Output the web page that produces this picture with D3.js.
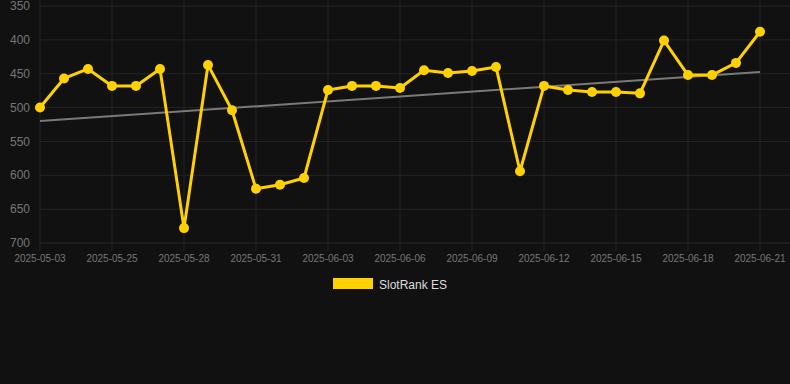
<!DOCTYPE html>
<html><head><meta charset="utf-8">
<script src="https://cdn.jsdelivr.net/npm/d3@7"></script>
<style>html,body{margin:0;padding:0;background:#111111;}svg{display:block;}</style>
</head><body>
<svg id="chart" width="790" height="384"></svg>
<script>
const dates = ["2025-05-03","2025-05-23","2025-05-24","2025-05-25","2025-05-26","2025-05-27","2025-05-28","2025-05-29","2025-05-30","2025-05-31","2025-06-01","2025-06-02","2025-06-03","2025-06-04","2025-06-05","2025-06-06","2025-06-07","2025-06-08","2025-06-09","2025-06-10","2025-06-11","2025-06-12","2025-06-13","2025-06-14","2025-06-15","2025-06-16","2025-06-17","2025-06-18","2025-06-19","2025-06-20","2025-06-21"];
const rankES = [500,457,443,468,468,443,678,437,504,620,614,604,474,468,468,471,445,449,446,440,594,468,474,477,477,479,401,452,452,434,388];
const yTicks = [350,400,450,500,550,600,650,700];
const seriesName = "SlotRank ES";

const svg = d3.select("#chart");
const W = 790, plotL = 40, plotR = 760, plotT = 6, plotB = 243;
const x = d3.scalePoint().domain(dates).range([plotL, plotR]);
const y = d3.scaleLinear().domain([350, 700]).range([plotT, plotB]);

// horizontal grid
svg.append("g").selectAll("line").data(yTicks).join("line")
  .attr("x1", plotL).attr("x2", W).attr("y1", d => y(d)).attr("y2", d => y(d))
  .attr("stroke", d => d === 700 ? "#2e2e2e" : "#242424").attr("stroke-width", 1);
// vertical grid at labelled ticks
const labelled = dates.filter((d, i) => i % 3 === 0);
svg.append("g").selectAll("line").data(labelled).join("line")
  .attr("x1", d => x(d)).attr("x2", d => x(d)).attr("y1", 0).attr("y2", plotB + 8)
  .attr("stroke", "#242424").attr("stroke-width", 1);

// y axis labels
svg.append("g").selectAll("text").data(yTicks).join("text")
  .attr("x", 30).attr("y", d => y(d)).attr("dy", "0.35em")
  .attr("text-anchor", "end").attr("fill", "#777").style("font", "12px Arial, 'Liberation Sans', sans-serif")
  .text(d => d);
// x axis labels
svg.append("g").selectAll("text").data(labelled).join("text")
  .attr("x", d => x(d)).attr("y", 262)
  .attr("text-anchor", "middle").attr("fill", "#777").style("font", "10px Arial, 'Liberation Sans', sans-serif")
  .text(d => d);

// trend line (least squares)
const n = rankES.length;
const xs = d3.range(n);
const mx = d3.mean(xs), my = d3.mean(rankES);
const slope = d3.sum(xs, i => (i - mx) * (rankES[i] - my)) / d3.sum(xs, i => (i - mx) ** 2);
const icpt = my - slope * mx;
svg.append("line")
  .attr("x1", x(dates[0])).attr("y1", y(icpt))
  .attr("x2", x(dates[n - 1])).attr("y2", y(icpt + slope * (n - 1)))
  .attr("stroke", "#7a7a7a").attr("stroke-width", 2);

// series line
const line = d3.line().x((d, i) => x(dates[i])).y(d => y(d));
svg.append("path").datum(rankES).attr("d", line)
  .attr("fill", "none").attr("stroke", "#FFD100").attr("stroke-width", 3).attr("stroke-linejoin", "round");
svg.append("g").selectAll("circle").data(rankES).join("circle")
  .attr("cx", (d, i) => x(dates[i])).attr("cy", d => y(d)).attr("r", 5)
  .attr("fill", "#FFD100");

// legend
svg.append("rect").attr("x", 333).attr("y", 278).attr("width", 40).attr("height", 11).attr("fill", "#FFD100");
svg.append("text").attr("x", 379).attr("y", 288.5).attr("fill", "#dddddd")
  .style("font", "12px Arial, 'Liberation Sans', sans-serif").text(seriesName);
</script>
</body></html>
